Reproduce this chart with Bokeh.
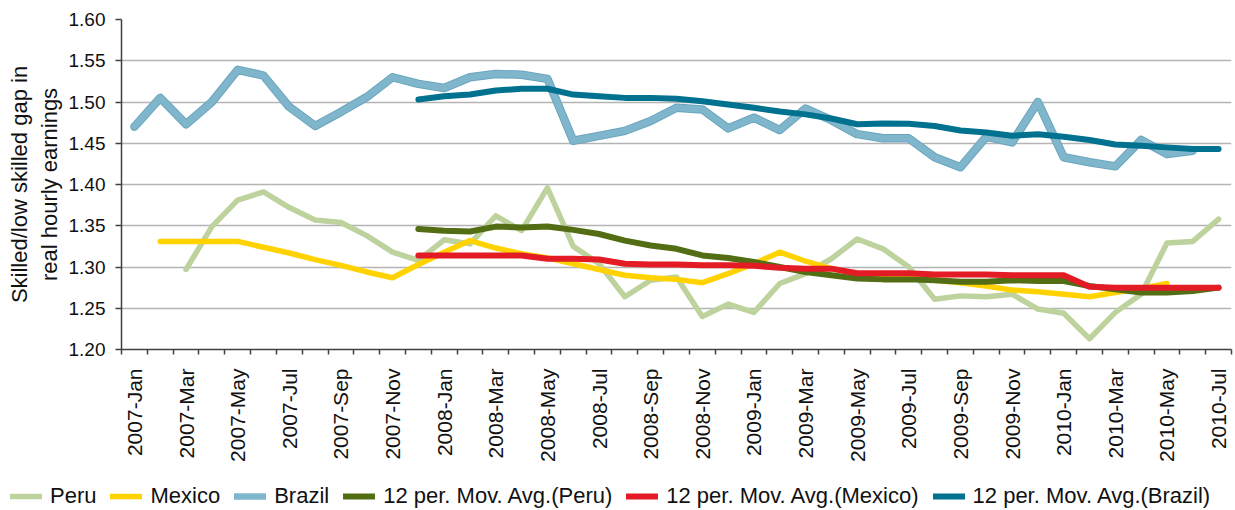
import numpy as np
from bokeh.plotting import figure
from bokeh.layouts import column, row
from bokeh.models import FixedTicker, Legend, LegendItem, Range1d, NumeralTickFormatter
from bokeh.embed import file_html
from bokeh.resources import INLINE

nan = np.nan

months = ["2007-Jan", "2007-Feb", "2007-Mar", "2007-Apr", "2007-May", "2007-Jun",
          "2007-Jul", "2007-Aug", "2007-Sep", "2007-Oct", "2007-Nov", "2007-Dec",
          "2008-Jan", "2008-Feb", "2008-Mar", "2008-Apr", "2008-May", "2008-Jun",
          "2008-Jul", "2008-Aug", "2008-Sep", "2008-Oct", "2008-Nov", "2008-Dec",
          "2009-Jan", "2009-Feb", "2009-Mar", "2009-Apr", "2009-May", "2009-Jun",
          "2009-Jul", "2009-Aug", "2009-Sep", "2009-Oct", "2009-Nov", "2009-Dec",
          "2010-Jan", "2010-Feb", "2010-Mar", "2010-Apr", "2010-May", "2010-Jun",
          "2010-Jul"]

peru = [nan, nan, 1.297, 1.349, 1.381, 1.391, 1.372, 1.357, 1.354, 1.338, 1.318, 1.308,
        1.333, 1.328, 1.362, 1.344, 1.396, 1.325, 1.304, 1.264, 1.284, 1.288, 1.240, 1.255,
        1.245, 1.280, 1.292, 1.310, 1.334, 1.322, 1.300, 1.261, 1.265, 1.264, 1.267, 1.249,
        1.244, 1.213, 1.245, 1.267, 1.329, 1.331, 1.358]

mexico = [nan, 1.331, 1.331, 1.331, 1.331, 1.324, 1.317, 1.309, 1.302, 1.294, 1.287, 1.303,
          1.318, 1.332, 1.323, 1.316, 1.311, 1.304, 1.297, 1.290, 1.287, 1.285, 1.281, 1.292,
          1.304, 1.318, 1.307, 1.298, 1.292, 1.289, 1.287, 1.284, 1.281, 1.277, 1.272, 1.270,
          1.267, 1.264, 1.269, 1.274, 1.280, nan, nan]

brazil = [1.470, 1.505, 1.473, 1.500, 1.539, 1.532, 1.494, 1.471, 1.488, 1.506, 1.530, 1.522,
          1.517, 1.530, 1.534, 1.533, 1.528, 1.453, 1.459, 1.465, 1.477, 1.493, 1.491, 1.468,
          1.481, 1.466, 1.492, 1.478, 1.461, 1.456, 1.456, 1.433, 1.421, 1.458, 1.451, 1.500,
          1.433, 1.427, 1.422, 1.454, 1.437, 1.441, nan]

ma_peru = [nan] * 11 + [1.346, 1.344, 1.343, 1.349, 1.348, 1.349, 1.345, 1.340, 1.332, 1.326,
                        1.322, 1.314, 1.311, 1.306, 1.300, 1.294, 1.290, 1.286, 1.285, 1.285,
                        1.284, 1.282, 1.282, 1.284, 1.283, 1.283, 1.277, 1.273, 1.269, 1.269,
                        1.271, 1.275]

ma_mexico = [nan] * 11 + [1.314, 1.314, 1.314, 1.314, 1.314, 1.310, 1.310, 1.309, 1.304, 1.303,
                          1.303, 1.302, 1.302, 1.3015, 1.299, 1.298, 1.298, 1.2925, 1.2925, 1.2925,
                          1.291, 1.291, 1.291, 1.290, 1.290, 1.290, 1.276, 1.275, 1.275, 1.275,
                          1.275, 1.275]

ma_brazil = [nan] * 11 + [1.503, 1.507, 1.509, 1.514, 1.516, 1.516, 1.509, 1.507, 1.505, 1.505,
                          1.504, 1.501, 1.497, 1.493, 1.4885, 1.485, 1.480, 1.473, 1.474, 1.4735,
                          1.471, 1.4655, 1.463, 1.459, 1.461, 1.458, 1.454, 1.4485, 1.447, 1.445,
                          1.443, 1.443]

series_names = ["Peru", "Mexico", "Brazil", "12 per. Mov. Avg.(Peru)",
                "12 per. Mov. Avg.(Mexico)", "12 per. Mov. Avg.(Brazil)"]
y_ticks = [1.20, 1.25, 1.30, 1.35, 1.40, 1.45, 1.50, 1.55, 1.60]

FONT = "Liberation Sans"
styles = [dict(line_color="#bdd29c", line_width=5.5),
          dict(line_color="#ffd200", line_width=5.5),
          dict(line_color="#80b6cb", line_width=6.5),
          dict(line_color="#526d13", line_width=6),
          dict(line_color="#e31b25", line_width=6),
          dict(line_color="#00718f", line_width=6)]
x = np.arange(len(months))

p = figure(width=1233, height=470, output_backend="svg", toolbar_location=None,
           x_range=Range1d(-0.5, len(months) - 0.5), y_range=Range1d(1.20, 1.60),
           min_border_left=121, min_border_right=2, min_border_top=19, min_border_bottom=121)
p.outline_line_color = None

all_series = [peru, mexico, brazil, ma_peru, ma_mexico, ma_brazil]
for i, (vals, st) in enumerate(zip(all_series, styles)):
    if i == 2:
        p.line(x, np.array(vals), line_color="#69a5bf", line_width=8.5,
               line_join="round", line_cap="round")
    p.line(x, np.array(vals), line_join="round", line_cap="round", **st)

# x axis
p.xaxis.ticker = FixedTicker(ticks=list(range(0, len(months), 2)),
                             minor_ticks=[i - 0.5 for i in range(len(months) + 1)])
p.xaxis.major_label_overrides = {i: months[i] for i in range(0, len(months), 2)}
p.xaxis.major_label_orientation = np.pi / 2
p.xaxis.major_tick_out = 0
p.xaxis.major_tick_in = 0
p.xaxis.minor_tick_out = 5
p.xaxis.minor_tick_in = 0
p.xaxis.minor_tick_line_color = "#404040"
p.xaxis.minor_tick_line_width = 1.5
p.xaxis.major_label_text_font = FONT
p.xaxis.major_label_text_font_size = "21px"
p.xaxis.major_label_text_color = "#111111"
p.xaxis.major_label_standoff = 14
p.xaxis.axis_line_color = "#404040"
p.xaxis.axis_line_width = 1.5
p.xgrid.visible = False

# y axis
p.yaxis.ticker = FixedTicker(ticks=y_ticks)
p.yaxis.formatter = NumeralTickFormatter(format="0.00")
p.yaxis.major_tick_out = 6
p.yaxis.major_tick_in = 0
p.yaxis.minor_tick_out = 0
p.yaxis.minor_tick_in = 0
p.yaxis.major_tick_line_color = "#404040"
p.yaxis.major_tick_line_width = 1.5
p.yaxis.axis_line_color = "#404040"
p.yaxis.axis_line_width = 1.5
p.yaxis.major_label_text_font = FONT
p.yaxis.major_label_text_font_size = "19px"
p.yaxis.major_label_text_color = "#111111"
p.yaxis.major_label_standoff = 10
p.yaxis.axis_label = "Skilled/low skilled gap in\nreal hourly earnings"
p.yaxis.axis_label_text_font = FONT
p.yaxis.axis_label_text_font_size = "22px"
p.yaxis.axis_label_text_font_style = "normal"
p.yaxis.axis_label_text_color = "#111111"
p.yaxis.axis_label_standoff = 4
p.ygrid.grid_line_color = "#b4b4b4"
p.ygrid.grid_line_width = 1.5

# legend strip (separate figure without axes)
lg = figure(width=1233, height=40, output_backend="svg", toolbar_location=None,
            x_range=Range1d(0, 1), y_range=Range1d(0, 1),
            x_axis_location=None, y_axis_location=None,
            min_border_left=0, min_border_right=0, min_border_top=0, min_border_bottom=0)
lg.grid.visible = False
lg.outline_line_color = None
items = []
for name, st in zip(series_names, styles):
    r = lg.line([-10, -9], [-10, -10], line_cap="round", **st)
    items.append(LegendItem(label=name, renderers=[r]))
legend = Legend(items=items, orientation="horizontal", location=(10, 1))
legend.label_text_font = FONT
legend.label_text_font_size = "22px"
legend.label_text_color = "#111111"
legend.glyph_width = 32
legend.glyph_height = 20
legend.label_standoff = 8
legend.spacing = 14
legend.padding = 0
legend.margin = 0
legend.border_line_color = None
legend.background_fill_alpha = 0
lg.add_layout(legend)

open("out.html", "w").write(file_html(column(row(p), row(lg), spacing=0), INLINE))
